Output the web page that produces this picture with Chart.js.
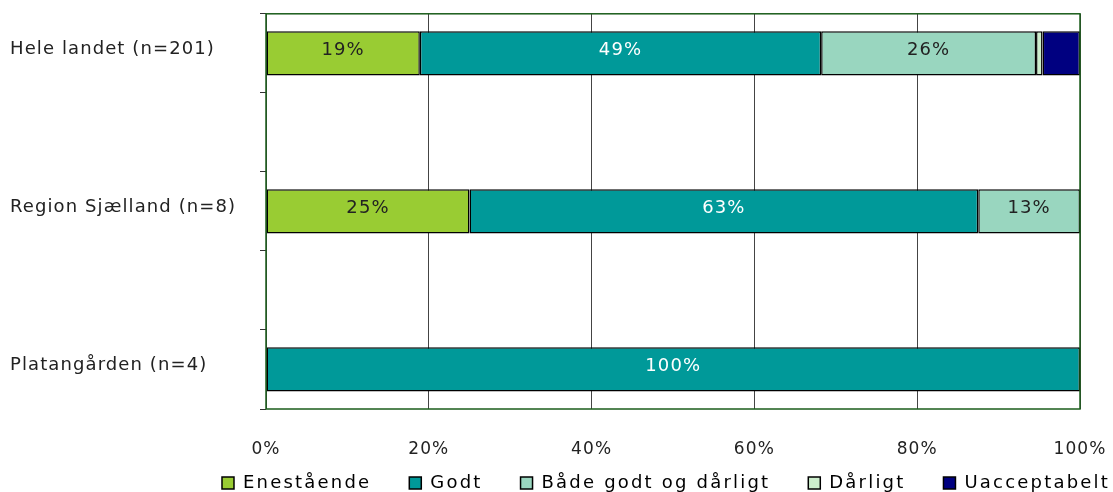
<!DOCTYPE html>
<html>
<head>
<meta charset="utf-8">
<script src="https://cdn.jsdelivr.net/npm/chart.js@4/dist/chart.umd.min.js"></script>
<style>
    html, body { margin: 0; padding: 0; background: #fff; }
    #wrap { width: 1113px; height: 492px; }
</style>
</head>
<body>
<div id="wrap"><canvas id="answerChart"></canvas></div>
<script>
// categories (blank ones keep the spacing between bars)
const categories = ["Hele landet (n=201)", "", "Region Sjælland (n=8)", "", "Platangården (n=4)"];
const seriesNames = ["Enestående", "Godt", "Både godt og dårligt", "Dårligt", "Uacceptabelt"];
const enestaaende = [18.9, null, 25, null, 0];
const godt = [49.3, null, 62.5, null, 100];
const baade = [26.4, null, 12.5, null, 0];
const daarligt = [0.8, null, 0, null, 0];
const uacceptabelt = [4.6, null, 0, null, 0];
const xTicks = ["0%", "20%", "40%", "60%", "80%", "100%"];

const colors = ["#99cc33", "#009999", "#99d6bf", "#cceecc", "#000080"];
const labelColors = ["#222", "#fff", "#222", "#222", "#fff"];
const fontName = "'DejaVu Sans', Verdana, sans-serif";

var seriesValues = [enestaaende, godt, baade, daarligt, uacceptabelt];
var datasets = [];
for (var i = 0; i < seriesNames.length; i++) {
    datasets.push({
        label: seriesNames[i],
        data: seriesValues[i],
        backgroundColor: colors[i],
        borderColor: "#000",
        borderWidth: 1.5,
        borderSkipped: false,
        categoryPercentage: 1,
        barPercentage: 0.56
    });
}

// wider letter spacing, the original font is a wide one
const spacing = {
    id: "spacing",
    beforeLayout(chart) { chart.ctx.letterSpacing = "2.2px"; },
    afterLayout(chart) {
        // put the legend row where the original has it
        var lg = chart.legend;
        lg.top = 436;
        lg.bottom = 492;
        lg.left += 121;
        lg.right += 121;
    },
    beforeDraw(chart) { chart.ctx.letterSpacing = "2.2px"; },
    beforeDatasetsDraw(chart) { chart.ctx.letterSpacing = "1.1px"; }
};

// draw the percent labels inside the bars
const barLabels = {
    id: "barLabels",
    afterDatasetsDraw(chart) {
        var ctx = chart.ctx;
        ctx.save();
        ctx.font = "18px " + fontName;
        ctx.textAlign = "center";
        ctx.textBaseline = "middle";
        chart.data.datasets.forEach(function (ds, di) {
            chart.getDatasetMeta(di).data.forEach(function (bar, idx) {
                var v = ds.data[idx];
                if (v == null || v < 5) return;
                ctx.fillStyle = labelColors[di];
                var cx = (bar.x + bar.base) / 2;
                ctx.fillText(Math.round(v) + "%", cx, bar.y - 3);
            });
        });
        ctx.restore();
    }
};

// green frame around the plot area
const plotFrame = {
    id: "plotFrame",
    afterDraw(chart) {
        var a = chart.chartArea;
        var ctx = chart.ctx;
        ctx.save();
        ctx.strokeStyle = "#1a5c1a";
        ctx.lineWidth = 1.5;
        ctx.strokeRect(a.left, a.top, a.right - a.left, a.bottom - a.top);
        ctx.restore();
    }
};

new Chart("answerChart", {
    type: "bar",
    data: { labels: categories, datasets: datasets },
    options: {
        indexAxis: "y",
        responsive: true,
        maintainAspectRatio: false,
        animation: false,
        layout: { padding: { top: 13, right: 33, left: 10, bottom: 0 } },
        scales: {
            x: {
                stacked: true,
                min: 0,
                max: 100,
                afterFit: function (scale) {
                    scale.height = 60;
                    scale.paddingLeft = 0;
                    scale.paddingRight = 0;
                },
                ticks: {
                    stepSize: 20,
                    color: "#222",
                    padding: 30,
                    z: 1,
                    font: { family: fontName, size: 17 },
                    callback: function (v, i) { return xTicks[i]; }
                },
                grid: { color: "#444", lineWidth: 1, drawTicks: false },
                border: { display: false }
            },
            y: {
                stacked: true,
                afterFit: function (scale) { scale.width = 256; },
                ticks: {
                    crossAlign: "far",
                    color: "#222",
                    z: 1,
                    labelOffset: -4,
                    font: { family: fontName, size: 18 }
                },
                grid: {
                    offset: true,
                    drawOnChartArea: false,
                    tickLength: 6,
                    color: "#333"
                },
                border: { display: false }
            }
        },
        plugins: {
            legend: {
                position: "bottom",
                maxHeight: 23,
                labels: {
                    boxWidth: 12,
                    boxHeight: 12,
                    padding: 38,
                    color: "#222",
                    font: { family: fontName, size: 18 },
                    generateLabels: function (chart) {
                        return chart.data.datasets.map(function (ds, i) {
                            return {
                                text: ds.label,
                                fillStyle: ds.backgroundColor,
                                strokeStyle: "#000",
                                lineWidth: 1.5,
                                datasetIndex: i
                            };
                        });
                    }
                }
            },
            tooltip: { enabled: false }
        }
    },
    plugins: [spacing, barLabels, plotFrame]
});
</script>
</body>
</html>
